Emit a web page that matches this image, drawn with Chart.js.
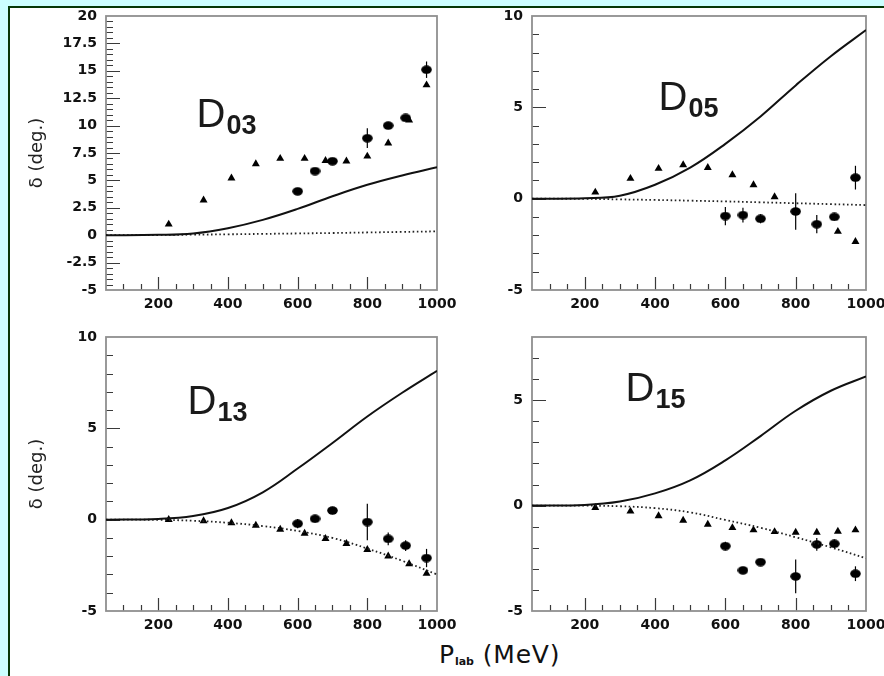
<!DOCTYPE html>
<html>
<head>
<meta charset="utf-8">
<title>D-wave phase shifts</title>
<script src="https://cdn.jsdelivr.net/npm/chart.js@4.4.1/dist/chart.umd.min.js"></script>
<style>
  html, body { margin: 0; padding: 0; }
  body { width: 884px; height: 676px; background: #ccffff; position: relative; overflow: hidden; }
  #sheet { position: absolute; left: 8px; top: 6px; right: 0; bottom: 0; background: #fff;
           border-top: 2px solid #063806; border-left: 2px solid #063806; }
  canvas { position: absolute; }
  #xtitle { position: absolute; left: 439px; top: 640px; font: 25px "DejaVu Sans"; letter-spacing: 0.8px; color: #111; white-space: nowrap; }
  #xtitle span { font: bold 11px "DejaVu Sans"; letter-spacing: 0; position: relative; top: 2px; }
</style>
</head>
<body>
<div id="sheet"></div>
<canvas id="d03" width="450" height="322" style="left:10px;top:8px"></canvas>
<canvas id="d05" width="424" height="322" style="left:460px;top:8px"></canvas>
<canvas id="d13" width="450" height="310" style="left:10px;top:330px"></canvas>
<canvas id="d15" width="424" height="310" style="left:460px;top:330px"></canvas>
<div id="xtitle">P<span>lab</span> (MeV)</div>

<script>
// ---- data ----
const xTicks = [200, 400, 600, 800, 1000];
const curveX = [50, 200, 300, 400, 500, 600, 700, 800, 900, 1000];
const triX = [230, 330, 410, 480, 550, 620, 680, 740, 800, 860, 920, 970];
const circX = [600, 650, 700, 800, 860, 910, 970];

// D03
const yTicksD03 = [-5, -2.5, 0, 2.5, 5, 7.5, 10, 12.5, 15, 17.5, 20];
const d03TriY = [1.0, 3.2, 5.2, 6.5, 7.0, 7.0, 6.8, 6.75, 7.2, 8.4, 10.5, 13.7];
const d03CircY = [4.0, 5.85, 6.75, 8.85, 10.0, 10.7, 15.1];
const d03Err = [0.2, 0.2, 0.2, 0.9, 0.3, 0.2, 0.75];
const d03Solid = [0, 0.03, 0.16, 0.64, 1.4, 2.4, 3.55, 4.6, 5.45, 6.2];
const d03Dotted = [0, 0.02, 0.05, 0.08, 0.12, 0.16, 0.2, 0.25, 0.3, 0.35];

// D05
const yTicksD05 = [-5, 0, 5, 10];
const d05TriX = [230, 330, 410, 480, 550, 620, 680, 740, 920, 970];
const d05TriY = [0.35, 1.1, 1.65, 1.85, 1.7, 1.3, 0.75, 0.1, -1.8, -2.35];
const d05CircY = [-0.95, -0.9, -1.1, -0.7, -1.4, -1.0, 1.15];
const d05Err = [0.5, 0.4, 0.25, 1.0, 0.5, 0.2, 0.65];
const d05Solid = [0, 0.02, 0.16, 0.76, 1.7, 3.0, 4.5, 6.2, 7.8, 9.23];
const d05Dotted = [0, -0.01, -0.04, -0.07, -0.11, -0.15, -0.2, -0.25, -0.3, -0.35];

// D13
const yTicksD13 = [-5, 0, 5, 10];
const d13TriY = [0, -0.07, -0.18, -0.31, -0.53, -0.75, -1.04, -1.31, -1.64, -2.0, -2.42, -2.95];
const d13CircY = [-0.22, 0.05, 0.5, -0.13, -1.05, -1.42, -2.1];
const d13Err = [0.25, 0.2, 0.2, 1.0, 0.35, 0.3, 0.5];
const d13Solid = [0, 0.04, 0.2, 0.64, 1.5, 2.8, 4.2, 5.65, 6.95, 8.15];
const d13Dotted = [0, -0.01, -0.06, -0.17, -0.35, -0.62, -1.0, -1.58, -2.25, -3.0];

// D15
const yTicksD15 = [-5, 0, 5];
const d15TriY = [-0.1, -0.27, -0.49, -0.7, -0.89, -1.05, -1.16, -1.24, -1.27, -1.27, -1.22, -1.16];
const d15CircY = [-1.92, -3.07, -2.68, -3.36, -1.84, -1.81, -3.23];
const d15Err = [0.2, 0.15, 0.15, 0.8, 0.3, 0.2, 0.35];
const d15Solid = [0, 0.03, 0.19, 0.58, 1.2, 2.15, 3.3, 4.5, 5.45, 6.13];
const d15Dotted = [0, 0, -0.03, -0.12, -0.32, -0.68, -1.05, -1.5, -1.98, -2.5];

// ---- panel setup ----
const panels = [
  { id: 'd03', sub: '03', triX: triX, triY: d03TriY, circY: d03CircY, err: d03Err, solid: d03Solid, dotted: d03Dotted,
    yTicks: yTicksD03, yMin: -5, yMax: 20, yMinor: 0.5,
    yAxisW: 96, xAxisH: 40, padTop: 8, padRight: 23, title: true, labelAt: [310, 9.85] },
  { id: 'd05', sub: '05', triX: d05TriX, triY: d05TriY, circY: d05CircY, err: d05Err, solid: d05Solid, dotted: d05Dotted,
    yTicks: yTicksD05, yMin: -5, yMax: 10, yMinor: 1,
    yAxisW: 72, xAxisH: 40, padTop: 8, padRight: 18, title: false, labelAt: [410, 4.86] },
  { id: 'd13', sub: '13', triX: triX, triY: d13TriY, circY: d13CircY, err: d13Err, solid: d13Solid, dotted: d13Dotted,
    yTicks: yTicksD13, yMin: -5, yMax: 10, yMinor: 1,
    yAxisW: 96, xAxisH: 29, padTop: 7, padRight: 23, title: true, labelAt: [284, 5.8] },
  { id: 'd15', sub: '15', triX: triX, triY: d15TriY, circY: d15CircY, err: d15Err, solid: d15Solid, dotted: d15Dotted,
    yTicks: yTicksD15, yMin: -5, yMax: 8, yMinor: 1,
    yAxisW: 72, xAxisH: 29, padTop: 7, padRight: 18, title: false, labelAt: [316, 4.95] }
];

const pts = (xs, ys) => xs.map((x, i) => ({ x: x, y: ys[i] }));

// filled ellipse used as the marker for the circles
const blob = document.createElement('canvas');
blob.width = 11; blob.height = 9;
{
  const b = blob.getContext('2d');
  b.fillStyle = '#000';
  b.beginPath();
  b.ellipse(5.5, 4.5, 5.3, 4.2, 0, 0, Math.PI * 2);
  b.fill();
}

// frame, inside ticks, error bars and the D label
const panelDeco = {
  id: 'panelDeco',
  beforeDatasetsDraw(chart) {
    const p = chart.options.plugins.panelDeco.p;
    const { ctx, chartArea: a } = chart;
    const xs = chart.scales.x, ys = chart.scales.y;
    ctx.save();
    ctx.strokeStyle = '#3a3a3a';
    ctx.lineWidth = 1.2;
    ctx.beginPath();
    for (let i = 1; 50 + i * 50 < 1000; i++) {
      const v = 50 + i * 50;
      const px = Math.round(xs.getPixelForValue(v)) + 0.5;
      const len = v % 200 === 0 ? 13 : 6;
      ctx.moveTo(px, a.bottom);
      ctx.lineTo(px, a.bottom - len);
    }
    const n = Math.round((p.yMax - p.yMin) / p.yMinor);
    for (let i = 1; i < n; i++) {
      const v = p.yMin + i * p.yMinor;
      const py = Math.round(ys.getPixelForValue(v)) + 0.5;
      const major = p.yTicks.some(t => Math.abs(t - v) < 1e-6);
      ctx.moveTo(a.left, py);
      ctx.lineTo(a.left + (major ? 14 : 7), py);
    }
    ctx.stroke();
    ctx.strokeStyle = '#8f8f8f';
    ctx.lineWidth = 1.8;
    ctx.strokeRect(a.left, a.top, a.right - a.left, a.bottom - a.top);

    // D label
    const lx = xs.getPixelForValue(p.labelAt[0]);
    const ly = ys.getPixelForValue(p.labelAt[1]);
    ctx.fillStyle = '#1a1a1a';
    ctx.font = '40px "Liberation Sans"';
    ctx.fillText('D', lx, ly);
    const w = ctx.measureText('D').width;
    ctx.font = 'bold 27px "Liberation Sans"';
    ctx.fillText(p.sub, lx + w + 1, ly + 7);
    ctx.restore();
  },
  afterDatasetsDraw(chart) {
    const ys = chart.scales.y;
    const ctx = chart.ctx;
    ctx.save();
    ctx.strokeStyle = '#000';
    ctx.lineWidth = 1.2;
    chart.data.datasets.forEach((ds, i) => {
      if (!ds.errors) return;
      chart.getDatasetMeta(i).data.forEach((el, j) => {
        const e = ds.errors[j];
        const y = ds.data[j].y;
        ctx.beginPath();
        ctx.moveTo(el.x, ys.getPixelForValue(y + e));
        ctx.lineTo(el.x, ys.getPixelForValue(y - e));
        ctx.stroke();
      });
    });
    ctx.restore();
  }
};

const tickFont = { family: 'DejaVu Sans', weight: 'bold', size: 14 };
const plain = v => String(v);

panels.forEach(p => {
  new Chart(document.getElementById(p.id), {
    type: 'line',
    data: {
      datasets: [
        { data: pts(curveX, p.solid), borderColor: '#111', borderWidth: 2, pointRadius: 0, tension: 0.4 },
        { data: pts(curveX, p.dotted), borderColor: '#222', borderWidth: 1.8, borderDash: [1.6, 2.6],
          pointRadius: 0, tension: 0.4 },
        { data: pts(p.triX, p.triY), showLine: false, pointStyle: 'triangle', pointRadius: 4.6,
          backgroundColor: '#000', borderColor: '#000', borderWidth: 0 },
        { data: pts(circX, p.circY), showLine: false, pointStyle: blob, pointRadius: 5, errors: p.err }
      ]
    },
    options: {
      responsive: false,
      animation: false,
      events: [],
      layout: { autoPadding: false, padding: { top: p.padTop, right: p.padRight, left: 0, bottom: 0 } },
      plugins: { legend: { display: false }, tooltip: { enabled: false }, panelDeco: { p: p } },
      scales: {
        x: {
          type: 'linear', min: 50, max: 1000,
          grid: { display: false, drawTicks: false }, border: { display: false },
          ticks: { font: tickFont, color: '#111', padding: 6, maxRotation: 0, autoSkip: false, callback: plain },
          afterBuildTicks: s => { s.ticks = xTicks.map(v => ({ value: v })); },
          afterFit: s => { s.height = p.xAxisH; s.paddingLeft = 0; s.paddingRight = 0; }
        },
        y: {
          type: 'linear', min: p.yMin, max: p.yMax,
          grid: { display: false, drawTicks: false }, border: { display: false },
          ticks: { font: tickFont, color: '#111', padding: 9, autoSkip: false, callback: plain },
          afterBuildTicks: s => { s.ticks = p.yTicks.map(v => ({ value: v })); },
          afterFit: s => { s.width = p.yAxisW; s.paddingTop = 0; s.paddingBottom = 0; },
          title: { display: p.title, text: 'δ (deg.)', color: '#222',
                   font: { family: 'DejaVu Sans', size: 18 }, padding: { top: 17, bottom: 0 } }
        }
      }
    },
    plugins: [panelDeco]
  });
});
</script>
</body>
</html>
